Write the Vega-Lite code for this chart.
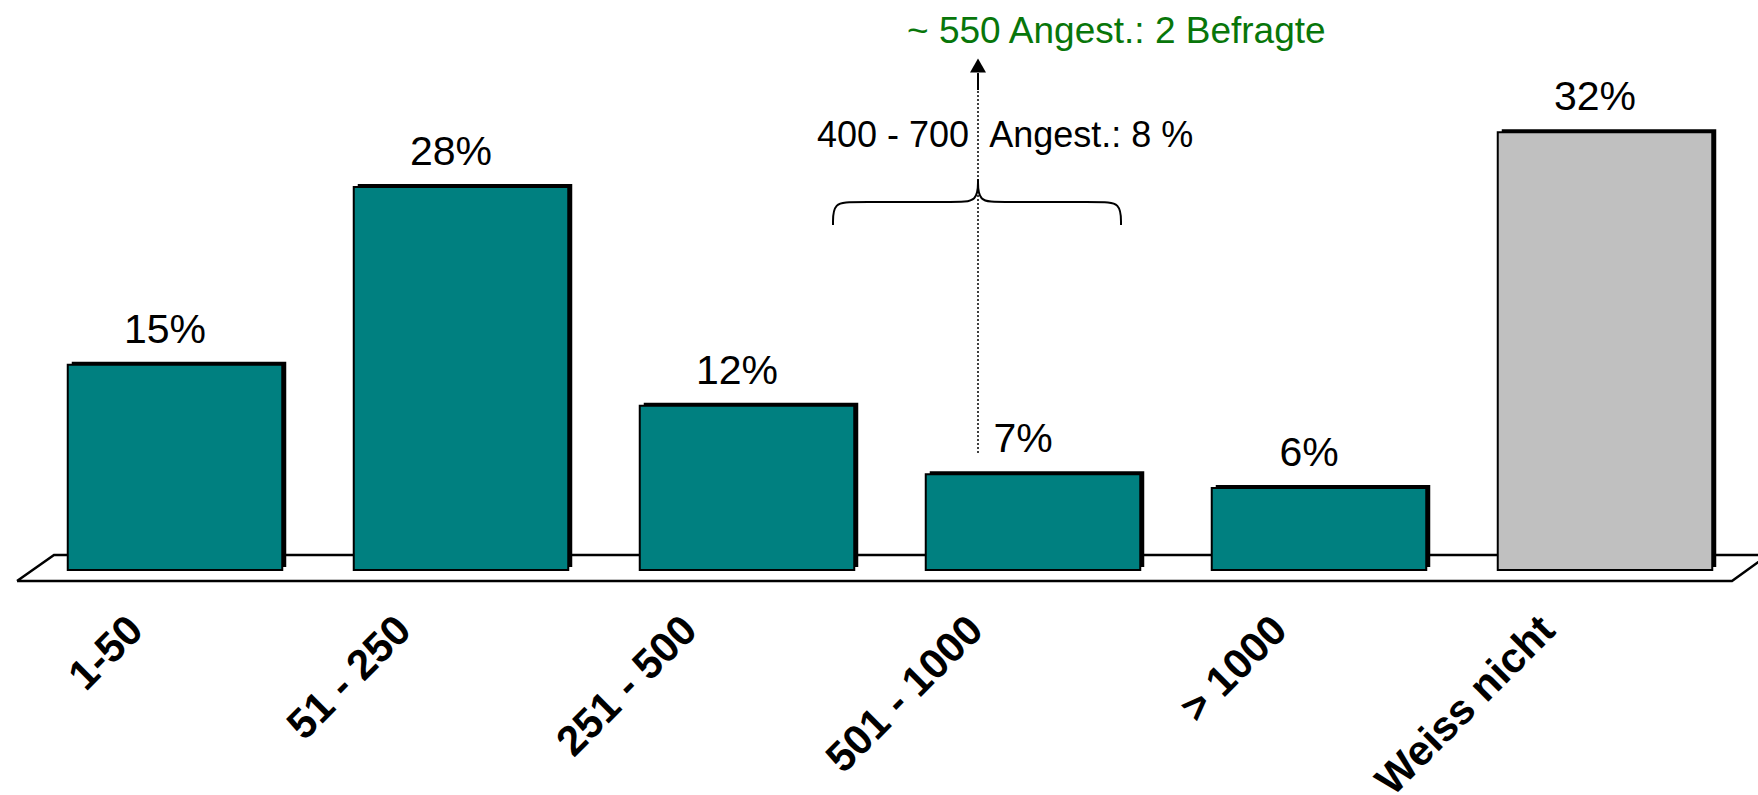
{
  "$schema": "https://vega.github.io/schema/vega-lite/v6.json",
  "autosize": {"type": "none"},
  "width": 1716,
  "height": 570,
  "padding": {"left": 32, "top": 0, "right": 10, "bottom": 225},
  "background": "white",
  "config": {"view": {"stroke": null}},
  "datasets": {
    "bars": [
      {"k": "1-50", "v": 15, "t": "15%", "g": "a"},
      {"k": "51 - 250", "v": 28, "t": "28%", "g": "a"},
      {"k": "251 - 500", "v": 12, "t": "12%", "g": "a"},
      {"k": "501 - 1000", "v": 7, "t": "7%", "g": "a"},
      {"k": "> 1000", "v": 6, "t": "6%", "g": "a"},
      {"k": "Weiss nicht", "v": 32, "t": "32%", "g": "b"}
    ],
    "floor": [
      {"i": 0, "x": -0.0524, "y": -0.804},
      {"i": 1, "x": 0.0769, "y": 1.096},
      {"i": 2, "x": 6.07, "y": 1.096},
      {"i": 3, "x": 5.944, "y": -0.804},
      {"i": 4, "x": -0.0524, "y": -0.804}
    ],
    "brace": [
      {"s": "l", "i": 0, "x": 2.8007, "y": 25.219},
      {"s": "l", "i": 1, "x": 2.8007, "y": 26.901},
      {"s": "l", "i": 2, "x": 2.8776, "y": 26.901},
      {"s": "l", "i": 3, "x": 3.2273, "y": 26.901},
      {"s": "l", "i": 4, "x": 3.3077, "y": 26.901},
      {"s": "l", "i": 5, "x": 3.3077, "y": 28.582},
      {"s": "r", "i": 0, "x": 3.8077, "y": 25.219},
      {"s": "r", "i": 1, "x": 3.8077, "y": 26.901},
      {"s": "r", "i": 2, "x": 3.7308, "y": 26.901},
      {"s": "r", "i": 3, "x": 3.3846, "y": 26.901},
      {"s": "r", "i": 4, "x": 3.3077, "y": 26.901},
      {"s": "r", "i": 5, "x": 3.3077, "y": 28.582}
    ],
    "pointer": [
      {"x": 3.3077, "y1": 8.553, "y2": 35.088, "ys": 36.33, "ya": 36.879}
    ],
    "note1": [
      {"x": 2.7448, "y": 30.921, "t": "400 - 700 \u00a0Angest.: 8 %"}
    ],
    "note2": [
      {"x": 3.0594, "y": 38.523, "t": "~ 550 Angest.: 2 Befragte"}
    ]
  },
  "resolve": {"scale": {"x": "independent", "color": "independent"}},
  "layer": [
    {
      "data": {"name": "floor"},
      "mark": {"type": "line", "color": "black", "strokeWidth": 2.5},
      "encoding": {
        "x": {"field": "x", "type": "quantitative", "scale": {"domain": [0, 6], "zero": false, "nice": false}, "axis": null},
        "y": {"field": "y", "type": "quantitative", "scale": {"domain": [0, 41.67], "nice": false, "zero": false}, "axis": null},
        "order": {"field": "i", "type": "quantitative"}
      }
    },
    {
      "data": {"name": "bars"},
      "mark": {"type": "bar", "color": "black", "xOffset": 4, "yOffset": -3, "y2Offset": -3},
      "encoding": {
        "x": {"field": "k", "type": "nominal", "sort": null,
              "scale": {"paddingInner": 0.25, "paddingOuter": 0.125},
              "axis": {"title": null, "domain": false, "ticks": false,
                       "labelAngle": -45, "labelAlign": "right", "labelBaseline": "middle",
                       "labelPadding": 53,
                       "labelOffset": {"condition": {"test": "length(datum.label) >= 8", "value": -57}, "value": -39},
                       "labelLimit": 0,
                       "labelFont": "Liberation Sans, Arial, sans-serif", "labelFontSize": 42, "labelFontWeight": "bold",
                       "labelColor": "black", "labelOverlap": false}},
        "y": {"field": "v", "type": "quantitative", "axis": null}
      }
    },
    {
      "data": {"name": "bars"},
      "mark": {"type": "bar", "stroke": "black", "strokeWidth": 2},
      "encoding": {
        "x": {"field": "k", "type": "nominal", "sort": null,
              "scale": {"paddingInner": 0.25, "paddingOuter": 0.125}, "axis": null},
        "y": {"field": "v", "type": "quantitative", "axis": null},
        "color": {"field": "g", "type": "nominal", "scale": {"domain": ["a", "b"], "range": ["#008080", "#C0C0C0"]}, "legend": null}
      }
    },
    {
      "data": {"name": "bars"},
      "mark": {"type": "text", "align": "center", "baseline": "alphabetic", "dx": -10, "dy": -22,
               "font": "Liberation Sans, Arial, sans-serif", "fontSize": 41, "color": "black"},
      "encoding": {
        "x": {"field": "k", "type": "nominal", "sort": null,
              "scale": {"paddingInner": 0.25, "paddingOuter": 0.125}, "axis": null},
        "y": {"field": "v", "type": "quantitative", "axis": null},
        "text": {"field": "t", "type": "nominal"}
      }
    },
    {
      "data": {"name": "brace"},
      "mark": {"type": "line", "color": "black", "strokeWidth": 2, "interpolate": "basis"},
      "encoding": {
        "x": {"field": "x", "type": "quantitative", "scale": {"domain": [0, 6], "zero": false, "nice": false}, "axis": null},
        "y": {"field": "y", "type": "quantitative", "axis": null},
        "detail": {"field": "s", "type": "nominal"},
        "order": {"field": "i", "type": "quantitative"}
      }
    },
    {
      "data": {"name": "pointer"},
      "mark": {"type": "rule", "color": "black", "strokeWidth": 1.5, "strokeDash": [2, 2]},
      "encoding": {
        "x": {"field": "x", "type": "quantitative", "scale": {"domain": [0, 6], "zero": false, "nice": false}, "axis": null},
        "y": {"field": "y1", "type": "quantitative", "axis": null},
        "y2": {"field": "y2"}
      }
    },
    {
      "data": {"name": "pointer"},
      "mark": {"type": "rule", "color": "black", "strokeWidth": 2},
      "encoding": {
        "x": {"field": "x", "type": "quantitative", "scale": {"domain": [0, 6], "zero": false, "nice": false}, "axis": null},
        "y": {"field": "y2", "type": "quantitative", "axis": null},
        "y2": {"field": "ys"}
      }
    },
    {
      "data": {"name": "pointer"},
      "mark": {"type": "point", "shape": "triangle-up", "filled": true, "color": "black", "size": 256, "opacity": 1},
      "encoding": {
        "x": {"field": "x", "type": "quantitative", "scale": {"domain": [0, 6], "zero": false, "nice": false}, "axis": null},
        "y": {"field": "ya", "type": "quantitative", "axis": null}
      }
    },
    {
      "data": {"name": "note1"},
      "mark": {"type": "text", "align": "left", "baseline": "alphabetic", "color": "black",
               "font": "Liberation Sans, Arial, sans-serif", "fontSize": 36},
      "encoding": {
        "x": {"field": "x", "type": "quantitative", "scale": {"domain": [0, 6], "zero": false, "nice": false}, "axis": null},
        "y": {"field": "y", "type": "quantitative", "axis": null},
        "text": {"field": "t", "type": "nominal"}
      }
    },
    {
      "data": {"name": "note2"},
      "mark": {"type": "text", "align": "left", "baseline": "alphabetic", "color": "#08760A",
               "font": "Liberation Sans, Arial, sans-serif", "fontSize": 37},
      "encoding": {
        "x": {"field": "x", "type": "quantitative", "scale": {"domain": [0, 6], "zero": false, "nice": false}, "axis": null},
        "y": {"field": "y", "type": "quantitative", "axis": null},
        "text": {"field": "t", "type": "nominal"}
      }
    }
  ]
}
